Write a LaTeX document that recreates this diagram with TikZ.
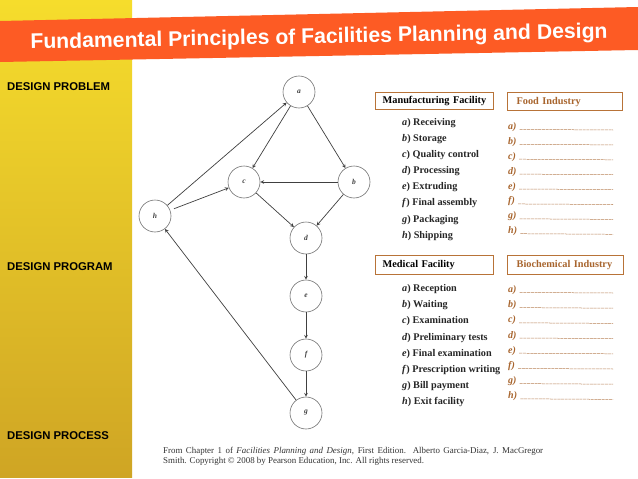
\documentclass[tikz,border=0pt]{standalone}
\usepackage{fontspec}
\setmainfont{Liberation Serif}
\newfontfamily\slidefont{Liberation Sans}
\usepackage{xcolor}
\definecolor{bannerred}{HTML}{FD5B24}
\definecolor{paneltop}{HTML}{F6DD2C}
\definecolor{panelbottom}{HTML}{CFA524}
\definecolor{boxbrown}{HTML}{B87338}
\definecolor{fillbrown}{HTML}{A8652E}

\begin{document}
\begin{tikzpicture}[x=1pt,y=-1pt,
              vertex/.style={circle, draw=black!55, line width=0.6pt, minimum size=32pt, inner sep=0pt,
                font=\fontsize{7.5}{8}\selectfont\itshape\bfseries, text=black!75},
              edge/.style={->, >=stealth, line width=0.7pt, draw=black!75},
              stage/.style={anchor=west, inner sep=0pt, font=\slidefont\bfseries\fontsize{11.3}{12}\selectfont},
              hdrbox/.style={draw=boxbrown, line width=1.3pt, anchor=north west, inner xsep=7pt, inner ysep=0pt,
                minimum height=17pt, align=left, font=\bfseries\fontsize{10.3}{11}\selectfont},
              task/.style={anchor=west, inner sep=0pt, text=black!85, font=\bfseries\fontsize{10.2}{11}\selectfont},
              blank/.style={anchor=west, inner sep=0pt, text=fillbrown, font=\bfseries\itshape\fontsize{10}{10}\selectfont},
              blankline/.style={draw=fillbrown!80, line width=0.5pt, dash pattern=on 3pt off 0.7pt}]
              \useasboundingbox (0,0) rectangle (638,479);
              \fill[white] (0,0) rectangle (638,479);
              \shade[top color=paneltop, bottom color=panelbottom] (0,0) rectangle (132,477);
              \fill[bannerred] (0,21) -- (638,7) -- (638,50) -- (0,62) -- cycle;
              \node[rotate=1.1, text=white, font=\slidefont\bfseries\fontsize{21.2}{22}\selectfont] (title) at (319,38)
                {Fundamental Principles of Facilities Planning and Design};
              \node[stage] (problem) at (7,87) {DESIGN PROBLEM};
              \node[stage] (program) at (7,267) {DESIGN PROGRAM};
              \node[stage] (process) at (7,436) {DESIGN PROCESS};
              \node[vertex] (a) at (299,92) {a};
              \node[vertex] (c) at (244,182) {c};
              \node[vertex] (b) at (354,182) {b};
              \node[vertex] (h) at (155,216) {h};
              \node[vertex] (d) at (306,238) {d};
              \node[vertex] (e) at (306,296) {e};
              \node[vertex] (f) at (306,355) {f};
              \node[vertex] (g) at (306,413) {g};
              \draw[edge] (a) -- (c);
              \draw[edge] (a) -- (b);
              \draw[edge] (b) -- (c);
              \draw[edge] (c) -- (d);
              \draw[edge] (b) -- (d);
              \draw[edge] (h) -- (a);
              \draw[edge, shorten <=4pt] (h) -- (c);
              \draw[edge] (d) -- (e);
              \draw[edge] (e) -- (f);
              \draw[edge] (f) -- (g);
              \draw[edge] (g) -- (h);
              \node[hdrbox, text width=104pt] (manuf) at (375,92) {Manufacturing Facility};
              \node[hdrbox, text width=104pt, minimum height=19pt] (medic) at (375,255) {Medical Facility};
              \node[hdrbox, text width=97pt, inner xsep=9pt, minimum height=18pt, text=fillbrown] (food) at (507,92) {Food Industry};
              \node[hdrbox, text width=98pt, inner xsep=9pt, minimum height=19pt, text=fillbrown] (bioch) at (507,255) {Biochemical Industry};
              \foreach \l/\t [count=\i from 0] in {a/Receiving, b/Storage, c/Quality control, d/Processing,
                  e/Extruding, f/Final assembly, g/Packaging, h/Shipping}
                \node[task] (mf\l) at (402,123+16.1*\i) {\textit{\l}) \t};
              \foreach \l/\t [count=\i from 0] in {a/Reception, b/Waiting, c/Examination, d/Preliminary tests,
                  e/Final examination, f/Prescription writing, g/Bill payment, h/Exit facility}
                \node[task] (md\l) at (402,289+16.2*\i) {\textit{\l}) \t};
              \foreach \l [count=\i from 0] in {a,b,c,d,e,f,g,h} {
                \node[blank] (fd\l) at (508,127+14.9*\i) {\l)};
                \draw[blankline] ([xshift=3pt]fd\l.base east) -- (613,130+14.9*\i);
                \node[blank] (bc\l) at (508,290+15.2*\i) {\l)};
                \draw[blankline] ([xshift=3pt]bc\l.base east) -- (613,293+15.2*\i);
              }
              \node[anchor=north west, text width=380pt, align=justify, inner sep=0pt, text=black!80,
                font=\fontsize{8.9}{10.5}\selectfont] (source) at (163,447)
                {From Chapter 1 of \textit{Facilities Planning and Design}, First Edition. Alberto Garcia-Diaz, J. MacGregor\linebreak
                Smith. Copyright \textcopyright{} 2008 by Pearson Education, Inc. All rights reserved.};
            \end{tikzpicture}
\end{document}
